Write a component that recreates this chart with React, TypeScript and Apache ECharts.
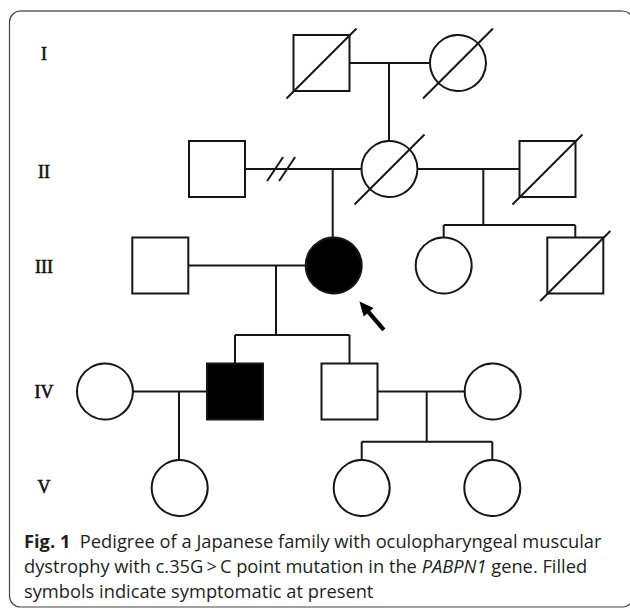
import React, { useEffect, useRef } from "react";
import * as echarts from "echarts";

// ---- Pedigree data ----
const GEN_LABELS = ["I", "II", "III", "IV", "V"];
const GEN_Y = [63, 169, 265.5, 391.5, 488];
const LABEL_Y = [54, 172, 267, 392, 487];

const IDS = ["I-1", "I-2", "II-1", "II-2", "II-3", "III-1", "III-2", "III-3", "III-4", "IV-1", "IV-2", "IV-3", "IV-4", "V-1", "V-2", "V-3"];
const GEN = [0, 0, 1, 1, 1, 2, 2, 2, 2, 3, 3, 3, 3, 4, 4, 4];
const POS_X = [321.5, 458, 217, 389.5, 547.5, 160.3, 333.7, 443.7, 575.3, 105, 235, 349.5, 492.7, 179.7, 361.7, 492.3];
const SEX = ["M", "F", "M", "F", "M", "M", "F", "F", "M", "F", "M", "M", "F", "F", "F", "F"];
const AFFECTED = [0, 0, 0, 0, 0, 0, 1, 0, 0, 0, 1, 0, 0, 0, 0, 0];
const DECEASED = [1, 1, 0, 1, 1, 0, 0, 0, 1, 0, 0, 0, 0, 0, 0, 0];
const PROBAND = "III-2";

const COUPLE_A = ["I-1", "II-1", "II-2", "III-1", "IV-1", "IV-3"];
const COUPLE_B = ["I-2", "II-2", "II-3", "III-2", "IV-2", "IV-4"];
const COUPLE_DROP_X = [389, 332.7, 483.3, 276, 179, 426.7];
const COUPLE_SIBSHIP_Y: (number | null)[] = [null, null, 225, 335, null, 441.7];
const COUPLE_CHILDREN = [["II-2"], ["III-2"], ["III-3", "III-4"], ["IV-2", "IV-3"], ["V-1"], ["V-2", "V-3"]];
const SEPARATED = [0, 1, 0, 0, 0, 0];

const CAPTION_LINES = [
  "{b|Fig. 1}  Pedigree of a Japanese family with oculopharyngeal muscular",
  "dystrophy with c.35G\u2009>\u2009C point mutation in the {i|PABPN1} gene. Filled",
  "symbols indicate symptomatic at present",
];

const HALF = 28;
const INK = "#161616";

function idx(id: string) {
  return IDS.indexOf(id);
}

function buildSegments() {
  const segs: number[][] = [];
  COUPLE_A.forEach((a, i) => {
    const ia = idx(a);
    const ib = idx(COUPLE_B[i]);
    const y = GEN_Y[GEN[ia]];
    const left = Math.min(POS_X[ia], POS_X[ib]) + HALF;
    const right = Math.max(POS_X[ia], POS_X[ib]) - HALF;
    segs.push([left, y, right, y]);
    const dx = COUPLE_DROP_X[i];
    const kids = COUPLE_CHILDREN[i].map(idx);
    const childTop = GEN_Y[GEN[kids[0]]] - HALF;
    const sib = COUPLE_SIBSHIP_Y[i];
    if (sib == null) {
      segs.push([dx, y, dx, childTop]);
    } else {
      segs.push([dx, y, dx, sib]);
      const xs = kids.map((k) => POS_X[k]);
      segs.push([Math.min(...xs), sib, Math.max(...xs), sib]);
      kids.forEach((k) => segs.push([POS_X[k], sib, POS_X[k], childTop]));
    }
    if (SEPARATED[i]) {
      const cx = left + (right - left) * 0.31;
      [-6, 6].forEach((o) => segs.push([cx + o - 8, y + 12, cx + o + 8, y - 12]));
    }
  });
  return segs;
}

export default function App() {
  const ref = useRef<HTMLDivElement>(null);
  useEffect(() => {
    if (!ref.current) return;
    const chart = echarts.init(ref.current, null, { renderer: "svg" });

    const people = IDS.map((id, i) => [POS_X[i], GEN_Y[GEN[i]], SEX[i] === "M" ? 1 : 0, AFFECTED[i], DECEASED[i], id === PROBAND ? 1 : 0]);
    const segs = buildSegments();
    const labels = GEN_LABELS.map((_, i) => [44, LABEL_Y[i], i]);

    const FONT = "Open Sans";
    const SIZE = 18.3;
    const COLOR = "#231f20";
    const cap = { fontFamily: FONT, fontSize: SIZE, fill: COLOR, verticalAlign: "middle", align: "left" };
    const rich = {
      b: { fontFamily: FONT, fontSize: SIZE, fontWeight: "bold", fill: COLOR },
      i: { fontFamily: FONT, fontSize: SIZE, fontStyle: "italic", fill: COLOR },
    };

    chart.setOption({
      animation: false,
      grid: { left: 0, right: 0, top: 0, bottom: 0 },
      xAxis: { type: "value", min: 0, max: 630, show: false },
      yAxis: { type: "value", min: 0, max: 609, inverse: true, show: false },
      graphic: [
        {
          type: "rect",
          shape: { x: 9.5, y: 11, width: 624, height: 596, r: 11 },
          style: { fill: "none", stroke: "#444", lineWidth: 1.2 },
          silent: true,
          z: 0,
        },
        {
          type: "line",
          shape: { x1: 20, y1: 11, x2: 622, y2: 11 },
          style: { stroke: "#858585", lineWidth: 2.2 },
          silent: true,
        },
        ...CAPTION_LINES.map((t, i) => ({
          type: "text",
          x: 24,
          y: 540 + i * 25,
          style: { text: t, ...cap, rich },
          silent: true,
        })),
      ],
      series: [
        {
          type: "custom",
          coordinateSystem: "cartesian2d",
          data: segs,
          encode: { x: [0, 2], y: [1, 3] },
          silent: true,
          renderItem: (_p: any, api: any) => {
            const a = api.coord([api.value(0), api.value(1)]);
            const b = api.coord([api.value(2), api.value(3)]);
            return {
              type: "line",
              shape: { x1: a[0], y1: a[1], x2: b[0], y2: b[1] },
              style: { stroke: INK, lineWidth: 2, fill: "none" },
            };
          },
        },
        {
          type: "custom",
          coordinateSystem: "cartesian2d",
          data: people,
          encode: { x: 0, y: 1 },
          silent: true,
          z: 3,
          renderItem: (_p: any, api: any) => {
            const x = api.value(0);
            const y = api.value(1);
            const c = api.coord([x, y]);
            const e = api.coord([x + HALF, y + HALF]);
            const h = e[0] - c[0];
            const hv = e[1] - c[1];
            const style = { fill: api.value(3) ? "#000" : "#fff", stroke: INK, lineWidth: 2 };
            const children: any[] = [];
            if (api.value(2) === 1) {
              children.push({ type: "rect", shape: { x: c[0] - h, y: c[1] - hv, width: 2 * h, height: 2 * hv }, style });
            } else {
              children.push({ type: "circle", shape: { cx: c[0], cy: c[1], r: h }, style });
            }
            if (api.value(4)) {
              children.push({
                type: "line",
                shape: { x1: c[0] - h * 1.25, y1: c[1] + hv * 1.27, x2: c[0] + h * 1.25, y2: c[1] - hv * 1.23 },
                style: { stroke: INK, lineWidth: 2 },
              });
            }
            if (api.value(5)) {
              const tip = [c[0] + h * 0.92, c[1] + hv * 1.29];
              const tail = [c[0] + h * 1.79, c[1] + hv * 2.3];
              const ang = Math.atan2(tail[1] - tip[1], tail[0] - tip[0]);
              const L = 14;
              const W = 6.5;
              const bx = tip[0] + Math.cos(ang) * L;
              const by = tip[1] + Math.sin(ang) * L;
              const px = -Math.sin(ang) * W;
              const py = Math.cos(ang) * W;
              children.push({
                type: "line",
                shape: { x1: bx - Math.cos(ang) * 2, y1: by - Math.sin(ang) * 2, x2: tail[0], y2: tail[1] },
                style: { stroke: "#000", lineWidth: 4.2 },
              });
              children.push({
                type: "polygon",
                shape: { points: [tip, [bx + px, by + py], [bx - px, by - py]] },
                style: { fill: "#000" },
              });
            }
            return { type: "group", children };
          },
        },
        {
          type: "custom",
          coordinateSystem: "cartesian2d",
          data: labels,
          encode: { x: 0, y: 1 },
          silent: true,
          renderItem: (_p: any, api: any) => {
            const c = api.coord([api.value(0), api.value(1)]);
            return {
              type: "text",
              x: c[0],
              y: c[1],
              style: {
                text: GEN_LABELS[api.value(2)],
                fontFamily: "Liberation Serif",
                fontSize: 18,
                fill: "#111",
                stroke: "#111",
                lineWidth: 0.6,
                align: "center",
                verticalAlign: "middle",
              },
            };
          },
        },
      ],
    });
    return () => chart.dispose();
  }, []);

  return (
    <div
      ref={ref}
      style={{ position: "absolute", left: 0, top: 0, width: 630, height: 609, background: "#fff" }}
    />
  );
}
